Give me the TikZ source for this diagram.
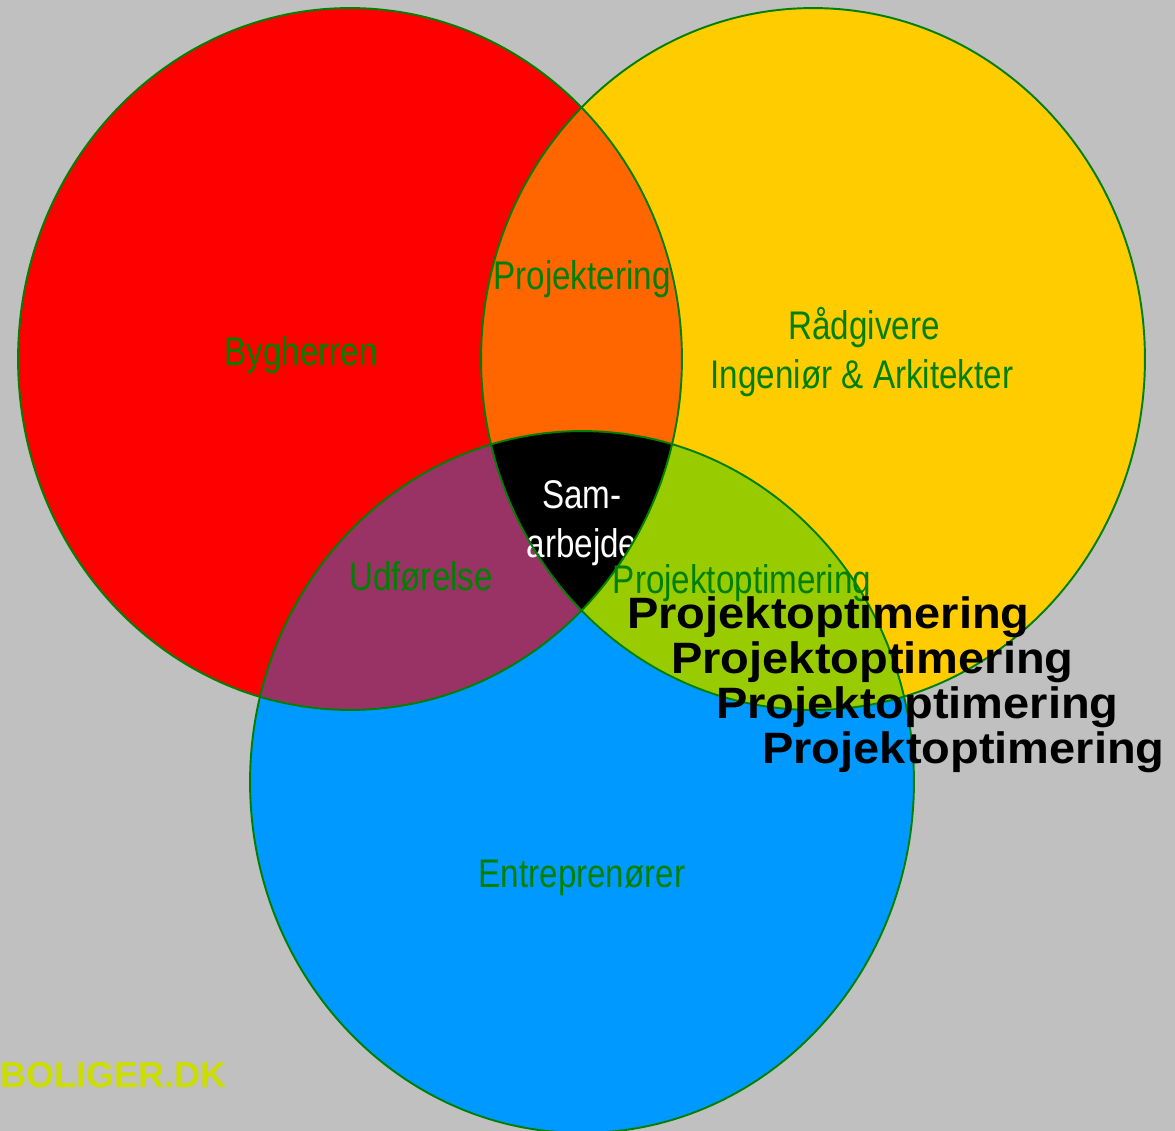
\documentclass[tikz,border=0pt]{standalone}
\usepackage{fontspec}
\setmainfont{Liberation Sans}
\newfontfamily\narrowfont{Liberation Sans}[FakeStretch=0.83]
\newfontfamily\widefont{Liberation Sans}[FakeStretch=1.07]
\definecolor{bggrey}{HTML}{C0C0C0}
\definecolor{byred}{HTML}{FF0000}
\definecolor{raadyellow}{HTML}{FFCC00}
\definecolor{entblue}{HTML}{0099FF}
\definecolor{projorange}{HTML}{FF6600}
\definecolor{udfpurple}{HTML}{993366}
\definecolor{optlime}{HTML}{99CC00}
\definecolor{rimgreen}{HTML}{008000}
\definecolor{logoyellow}{HTML}{CCDD00}
\tikzset{
  rim/.style={draw=rimgreen, line width=1.1pt},
  fieldtext/.style={inner sep=0pt, anchor=base, text=rimgreen,
    font=\narrowfont\fontsize{22.76pt}{27.3pt}\selectfont},
  bigtext/.style={inner sep=0pt, anchor=base west, text=black,
    font=\widefont\bfseries\fontsize{25pt}{29pt}\selectfont}
}
\begin{document}
\begin{tikzpicture}[x=0.02cm,y=-0.02cm]
  \fill[bggrey] (0,0) rectangle (1175,1131);
  \useasboundingbox (0,0) rectangle (1175,1131);
  \coordinate (byg) at (350,359);
  \coordinate (raad) at (813,359);
  \coordinate (ent) at (582,782);
  % the three fields
  \fill[byred] (byg) ellipse [x radius=6.64cm, y radius=7.02cm];
  \fill[raadyellow] (raad) ellipse [x radius=6.64cm, y radius=7.02cm];
  \fill[entblue] (ent) ellipse [x radius=6.64cm, y radius=7.02cm];
  % overlaps
  \begin{scope}
    \clip (byg) ellipse [x radius=6.64cm, y radius=7.02cm];
    \fill[projorange] (raad) ellipse [x radius=6.64cm, y radius=7.02cm];
    \fill[udfpurple] (ent) ellipse [x radius=6.64cm, y radius=7.02cm];
  \end{scope}
  \begin{scope}
    \clip (raad) ellipse [x radius=6.64cm, y radius=7.02cm];
    \fill[optlime] (ent) ellipse [x radius=6.64cm, y radius=7.02cm];
    \clip (ent) ellipse [x radius=6.64cm, y radius=7.02cm];
    \fill[black] (byg) ellipse [x radius=6.64cm, y radius=7.02cm];
  \end{scope}
  \begin{scope}
    \clip (byg) ellipse [x radius=6.64cm, y radius=7.02cm];
    \node[fieldtext, text=white] (sam) at (582,508) {Sam-};
    \node[fieldtext, text=white] (arbejde) at (582,557) {arbejde};
  \end{scope}
  % rims
  \draw[rim] (byg) ellipse [x radius=6.64cm, y radius=7.02cm];
  \draw[rim] (raad) ellipse [x radius=6.64cm, y radius=7.02cm];
  \draw[rim] (ent) ellipse [x radius=6.64cm, y radius=7.02cm];
  % texts
  \node[fieldtext] (bygherren) at (301,365) {Bygherren};
  \node[fieldtext] (projektering) at (582,290) {Projektering};
  \node[fieldtext] (raadgivere) at (864,340) {Rådgivere};
  \node[fieldtext] (ingenioer) at (862,388) {Ingeniør \& Arkitekter};
  \node[fieldtext] (udfoerelse) at (421,590) {Udførelse};
  \node[fieldtext] (projopt) at (742,593) {Projektoptimering};
  \node[fieldtext] (entreprenoerer) at (582,887) {Entreprenører};
  \node[bigtext] (opt1) at (627,628) {Projektoptimering};
  \node[bigtext] (opt2) at (671,673) {Projektoptimering};
  \node[bigtext] (opt3) at (716,718) {Projektoptimering};
  \node[bigtext] (opt4) at (762,763) {Projektoptimering};
  \node[inner sep=0pt, anchor=base west, text=logoyellow,
    font=\bfseries\fontsize{20.49pt}{24pt}\selectfont] (boliger) at (0,1087) {BOLIGER.DK};
\end{tikzpicture}
\end{document}
